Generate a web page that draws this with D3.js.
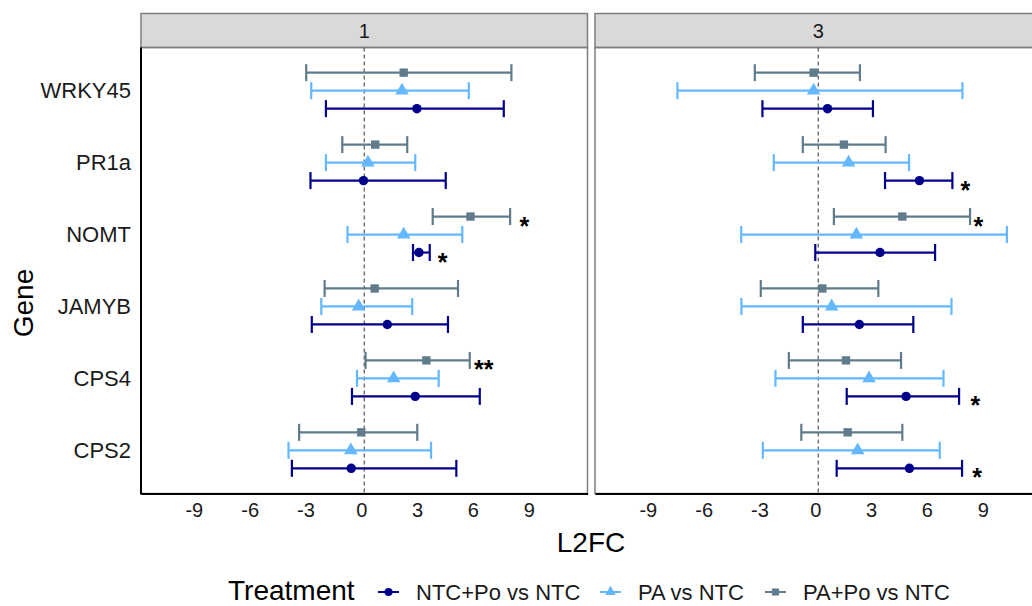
<!DOCTYPE html>
<meta charset="utf-8">
<style>
    body { margin: 0; background: #fff; }
    text { font-family: "Liberation Sans", Arial, sans-serif; }
</style>
<body>

<script src="https://cdn.jsdelivr.net/npm/d3@7"></script>
<script>
    // genes top to bottom, facets, treatments
    var genes = ["WRKY45", "PR1a", "NOMT", "JAMYB", "CPS4", "CPS2"];
    var facets = ["1", "3"];
    var treatments = ["NTC+Po vs NTC", "PA vs NTC", "PA+Po vs NTC"];
    var xTicks = [-9, -6, -3, 0, 3, 6, 9];

    // facet 1 (estimate, lower, upper; gene order)
    var est1_ntcpo = [2.83, -0.04, 2.94, 1.24, 2.74, -0.70];
    var lo1_ntcpo  = [-2.06, -2.89, 2.62, -2.82, -0.66, -3.89];
    var hi1_ntcpo  = [7.50, 4.38, 3.52, 4.50, 6.21, 4.95];
    var est1_pa = [2.03, 0.20, 2.12, -0.30, 1.58, -0.72];
    var lo1_pa  = [-2.85, -2.06, -0.90, -2.31, -0.39, -4.07];
    var hi1_pa  = [5.62, 2.74, 5.27, 2.58, 4.00, 3.59];
    var est1_papo = [2.12, 0.59, 5.71, 0.56, 3.34, -0.16];
    var lo1_papo  = [-3.12, -1.18, 3.68, -2.13, 0.07, -3.50];
    var hi1_papo  = [7.91, 2.31, 7.84, 5.04, 5.67, 2.85];

    // facet 3
    var est3_ntcpo = [0.50, 5.44, 3.32, 2.21, 4.72, 4.90];
    var lo3_ntcpo  = [-3.00, 3.59, -0.16, -0.83, 1.53, 0.99];
    var hi3_ntcpo  = [2.94, 7.21, 6.28, 5.11, 7.57, 7.73];
    var est3_pa = [-0.25, 1.63, 2.05, 0.72, 2.73, 2.12];
    var lo3_pa  = [-7.57, -2.39, -4.14, -4.13, -2.30, -2.98];
    var hi3_pa  = [7.75, 4.88, 10.14, 7.16, 6.73, 6.53];
    var est3_papo = [-0.25, 1.38, 4.52, 0.22, 1.49, 1.58];
    var lo3_papo  = [-3.41, -0.83, 0.84, -3.09, -1.58, -0.91];
    var hi3_papo  = [2.24, 3.62, 8.16, 3.23, 4.45, 4.52];

    // significance labels
    var starFacet = ["1", "1", "1", "3", "3", "3", "3"];
    var starGene = ["NOMT", "NOMT", "CPS4", "PR1a", "NOMT", "CPS4", "CPS2"];
    var starTreat = ["PA+Po vs NTC", "NTC+Po vs NTC", "PA+Po vs NTC", "NTC+Po vs NTC", "PA+Po vs NTC", "NTC+Po vs NTC", "NTC+Po vs NTC"];
    var starLabel = ["*", "*", "**", "*", "*", "*", "*"];
    var starX = [8.6, 4.21, 6.42, 7.91, 8.6, 8.45, 8.54];

    var series = {
        "1": {
            "NTC+Po vs NTC": [est1_ntcpo, lo1_ntcpo, hi1_ntcpo],
            "PA vs NTC": [est1_pa, lo1_pa, hi1_pa],
            "PA+Po vs NTC": [est1_papo, lo1_papo, hi1_papo]
        },
        "3": {
            "NTC+Po vs NTC": [est3_ntcpo, lo3_ntcpo, hi3_ntcpo],
            "PA vs NTC": [est3_pa, lo3_pa, hi3_pa],
            "PA+Po vs NTC": [est3_papo, lo3_papo, hi3_papo]
        }
    };

    var data = [];
    facets.forEach(function(f) {
        treatments.forEach(function(t) {
            genes.forEach(function(g, i) {
                data.push({facet: f, treat: t, gene: g,
                    est: series[f][t][0][i], lo: series[f][t][1][i], hi: series[f][t][2][i]});
            });
        });
    });

    var width = 1032, height = 606;
    var svg = d3.select("body").append("svg")
        .attr("width", width)
        .attr("height", height);

    var panelTop = 47.5, panelBottom = 493.5, stripTop = 13.5;
    var panelLeft = {"1": 141, "3": 595}, panelW = 446.5;

    var color = d3.scaleOrdinal().domain(treatments).range(["#00008B", "#63B8FF", "#607B8B"]);
    var y = d3.scalePoint().domain(genes).range([panelTop, panelBottom]).padding(0.6);
    var dodge = d3.scalePoint().domain(["PA+Po vs NTC", "PA vs NTC", "NTC+Po vs NTC"]).range([-18, 18]);

    facets.forEach(function(f) {
        var x0 = panelLeft[f];
        var x = d3.scaleLinear().domain([-12, 12]).range([x0, x0 + panelW]);
        var g = svg.append("g");

        // strip
        g.append("rect")
            .attr("x", x0).attr("y", stripTop)
            .attr("width", panelW).attr("height", panelTop - stripTop)
            .attr("fill", "#d9d9d9").attr("stroke", "#7f7f7f").attr("stroke-width", 1.5);
        g.append("text")
            .attr("x", x(0)).attr("y", (stripTop + panelTop) / 2)
            .attr("dy", "0.36em").attr("text-anchor", "middle")
            .attr("font-size", 20).attr("fill", "#1a1a1a")
            .text(f);

        // panel border
        g.append("rect")
            .attr("x", x0).attr("y", panelTop)
            .attr("width", panelW).attr("height", panelBottom - panelTop)
            .attr("fill", "none").attr("stroke", "#7f7f7f").attr("stroke-width", 1.5);

        // zero line
        g.append("line")
            .attr("x1", x(0)).attr("x2", x(0))
            .attr("y1", panelTop).attr("y2", panelBottom)
            .attr("stroke", "#555").attr("stroke-width", 1.2)
            .attr("stroke-dasharray", "4,3");

        var d = data.filter(function(r) { return r.facet === f; });
        var rows = g.selectAll(".row").data(d).enter().append("g")
            .attr("transform", function(r) { return "translate(0," + (y(r.gene) + dodge(r.treat)) + ")"; })
            .attr("stroke", function(r) { return color(r.treat); })
            .attr("fill", function(r) { return color(r.treat); });

        rows.append("line")
            .attr("x1", function(r) { return x(r.lo); })
            .attr("x2", function(r) { return x(r.hi); })
            .attr("stroke-width", 2.2);
        rows.append("line")
            .attr("x1", function(r) { return x(r.lo); })
            .attr("x2", function(r) { return x(r.lo); })
            .attr("y1", -8.5).attr("y2", 8.5).attr("stroke-width", 2.2);
        rows.append("line")
            .attr("x1", function(r) { return x(r.hi); })
            .attr("x2", function(r) { return x(r.hi); })
            .attr("y1", -8.5).attr("y2", 8.5).attr("stroke-width", 2.2);

        var shape = d3.scaleOrdinal().domain(treatments)
            .range([d3.symbolCircle, d3.symbolTriangle, d3.symbolSquare]);
        var symSize = d3.scaleOrdinal().domain(treatments).range([70, 80, 70]);
        rows.append("path")
            .attr("transform", function(r) { return "translate(" + x(r.est) + ",0)"; })
            .attr("stroke", "none")
            .attr("d", function(r) { return d3.symbol().type(shape(r.treat)).size(symSize(r.treat))(); });

        // stars
        starFacet.forEach(function(sf, i) {
            if (sf !== f) return;
            g.append("text")
                .attr("x", x(starX[i]))
                .attr("y", y(starGene[i]) + dodge(starTreat[i]) + 18)
                .attr("text-anchor", "middle")
                .attr("font-size", 25).attr("font-weight", "bold").attr("fill", "#000")
                .text(starLabel[i]);
        });

        // x axis
        var ax = g.append("g")
            .attr("transform", "translate(0," + panelBottom + ")")
            .call(d3.axisBottom(x).tickValues(xTicks).tickSize(0).tickSizeOuter(0).tickPadding(9)
                .tickFormat(function(v) { return String(v); }));
        ax.select(".domain").attr("stroke", "#000").attr("stroke-width", 2);
        ax.selectAll("text")
            .attr("font-size", 20).attr("fill", "#1a1a1a")
            .attr("font-family", "Liberation Sans, Arial, sans-serif")
            .attr("dx", -3);

        if (f === "1") {
            var ay = g.append("g")
                .attr("transform", "translate(" + x0 + ",0)")
                .call(d3.axisLeft(y).tickSize(0).tickPadding(10));
            ay.select(".domain").attr("stroke", "#000").attr("stroke-width", 2)
                .attr("d", "M0," + panelTop + "V" + (panelBottom + 1));
            ay.selectAll("text")
                .attr("font-size", 22).attr("fill", "#1a1a1a")
                .attr("font-family", "Liberation Sans, Arial, sans-serif");
        }
    });

    // axis titles
    svg.append("text")
        .attr("x", 591).attr("y", 552)
        .attr("text-anchor", "middle").attr("font-size", 28)
        .text("L2FC");
    svg.append("text")
        .attr("transform", "translate(33,303) rotate(-90)")
        .attr("text-anchor", "middle").attr("font-size", 28)
        .text("Gene");

    // legend
    var legend = svg.append("g").attr("transform", "translate(0,592)");
    legend.append("text")
        .attr("x", 228).attr("y", 8)
        .attr("font-size", 28)
        .text("Treatment");
    var legX = [378, 600, 765];
    var legShape = [d3.symbolCircle, d3.symbolTriangle, d3.symbolSquare];
    var item = legend.selectAll(".item").data(treatments).enter().append("g")
        .attr("transform", function(t, i) { return "translate(" + legX[i] + ",0)"; });
    item.append("line")
        .attr("x1", 0).attr("x2", 21)
        .attr("stroke", function(t) { return color(t); })
        .attr("stroke-width", 2);
    item.append("path")
        .attr("transform", "translate(10.5,0)")
        .attr("fill", function(t) { return color(t); })
        .attr("d", function(t, i) { return d3.symbol().type(legShape[i]).size(50)(); });
    item.append("text")
        .attr("x", 38).attr("y", 8)
        .attr("font-size", 22).attr("fill", "#1a1a1a")
        .text(function(t) { return t; });
</script>
</body>
